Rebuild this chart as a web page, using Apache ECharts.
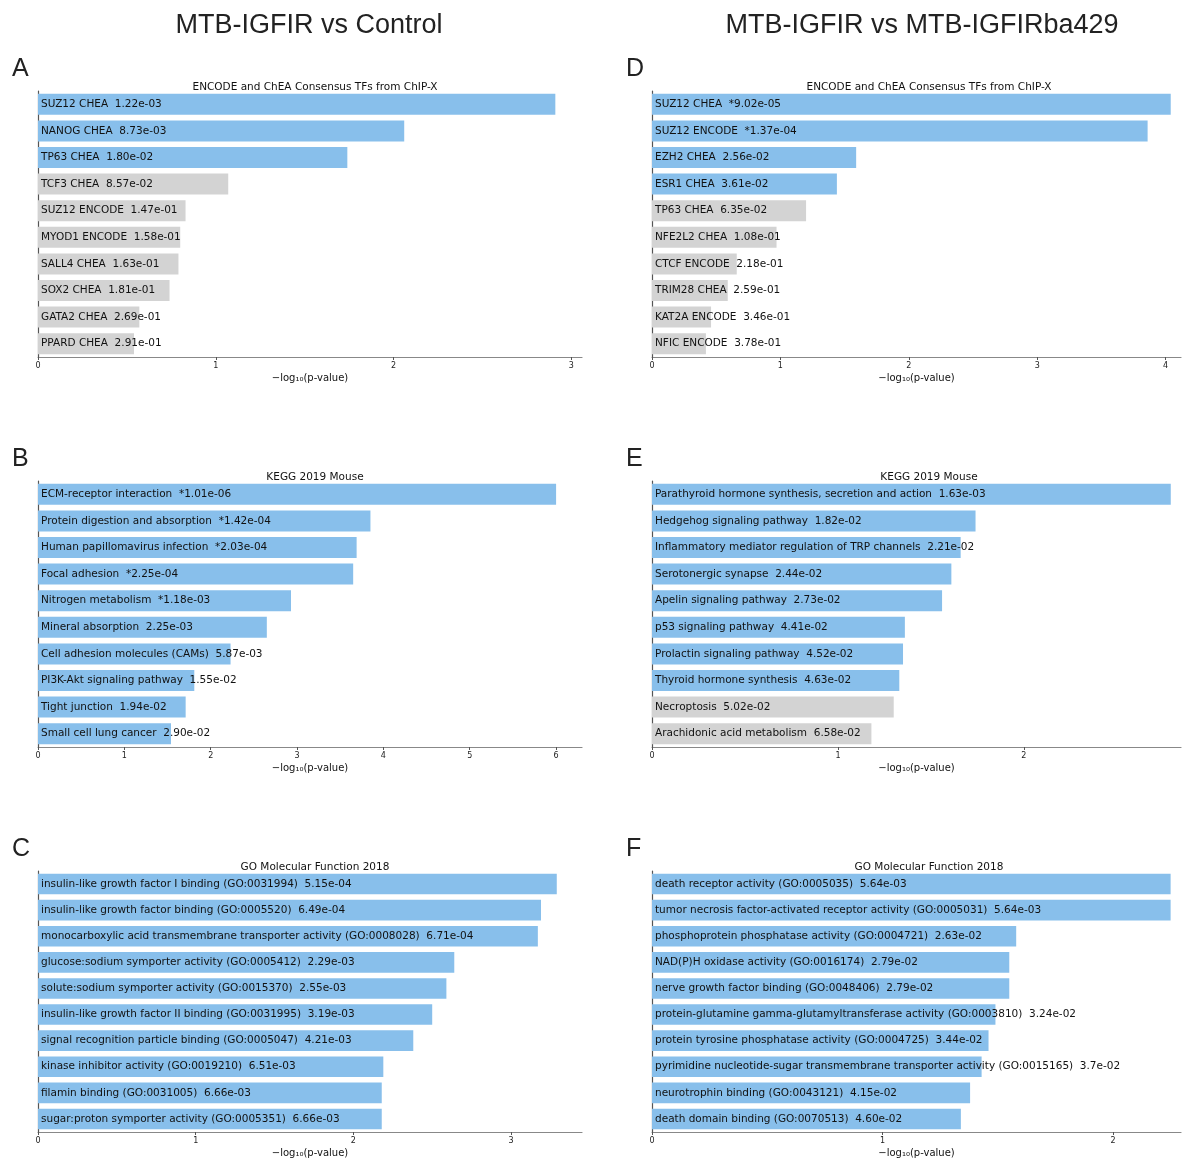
<!DOCTYPE html>
<html>
<head>
<meta charset="utf-8">
<script src="https://cdn.jsdelivr.net/npm/echarts@6/dist/echarts.min.js"></script>
<style>
  html, body { margin: 0; padding: 0; background: #fff; }
  #chart { width: 1182px; height: 1159px; }
</style>
</head>
<body>
<div id="chart"></div>
<script>
// A: ENCODE and ChEA (Control)
const termsA = ['SUZ12 CHEA', 'NANOG CHEA', 'TP63 CHEA', 'TCF3 CHEA', 'SUZ12 ENCODE', 'MYOD1 ENCODE', 'SALL4 CHEA', 'SOX2 CHEA', 'GATA2 CHEA', 'PPARD CHEA']
const pA = ['1.22e-03', '8.73e-03', '1.80e-02', '8.57e-02', '1.47e-01', '1.58e-01', '1.63e-01', '1.81e-01', '2.69e-01', '2.91e-01']
const valuesA = [2.91, 2.06, 1.74, 1.07, 0.83, 0.80, 0.79, 0.74, 0.57, 0.54]
const ticksA = [0, 1, 2, 3]

// B: KEGG (Control)
const termsB = ['ECM-receptor interaction', 'Protein digestion and absorption', 'Human papillomavirus infection', 'Focal adhesion', 'Nitrogen metabolism', 'Mineral absorption', 'Cell adhesion molecules (CAMs)', 'PI3K-Akt signaling pathway', 'Tight junction', 'Small cell lung cancer']
const pB = ['*1.01e-06', '*1.42e-04', '*2.03e-04', '*2.25e-04', '*1.18e-03', '2.25e-03', '5.87e-03', '1.55e-02', '1.94e-02', '2.90e-02']
const valuesB = [6.00, 3.85, 3.69, 3.65, 2.93, 2.65, 2.23, 1.81, 1.71, 1.54]
const ticksB = [0, 1, 2, 3, 4, 5, 6]

// C: GO MF (Control)
const termsC = ['insulin-like growth factor I binding (GO:0031994)', 'insulin-like growth factor binding (GO:0005520)', 'monocarboxylic acid transmembrane transporter activity (GO:0008028)', 'glucose:sodium symporter activity (GO:0005412)', 'solute:sodium symporter activity (GO:0015370)', 'insulin-like growth factor II binding (GO:0031995)', 'signal recognition particle binding (GO:0005047)', 'kinase inhibitor activity (GO:0019210)', 'filamin binding (GO:0031005)', 'sugar:proton symporter activity (GO:0005351)']
const pC = ['5.15e-04', '6.49e-04', '6.71e-04', '2.29e-03', '2.55e-03', '3.19e-03', '4.21e-03', '6.51e-03', '6.66e-03', '6.66e-03']
const valuesC = [3.29, 3.19, 3.17, 2.64, 2.59, 2.50, 2.38, 2.19, 2.18, 2.18]
const ticksC = [0, 1, 2, 3]

// D: ENCODE and ChEA (ba429)
const termsD = ['SUZ12 CHEA', 'SUZ12 ENCODE', 'EZH2 CHEA', 'ESR1 CHEA', 'TP63 CHEA', 'NFE2L2 CHEA', 'CTCF ENCODE', 'TRIM28 CHEA', 'KAT2A ENCODE', 'NFIC ENCODE']
const pD = ['*9.02e-05', '*1.37e-04', '2.56e-02', '3.61e-02', '6.35e-02', '1.08e-01', '2.18e-01', '2.59e-01', '3.46e-01', '3.78e-01']
const valuesD = [4.04, 3.86, 1.59, 1.44, 1.20, 0.97, 0.66, 0.59, 0.46, 0.42]
const ticksD = [0, 1, 2, 3, 4]

// E: KEGG (ba429)
const termsE = ['Parathyroid hormone synthesis, secretion and action', 'Hedgehog signaling pathway', 'Inflammatory mediator regulation of TRP channels', 'Serotonergic synapse', 'Apelin signaling pathway', 'p53 signaling pathway', 'Prolactin signaling pathway', 'Thyroid hormone synthesis', 'Necroptosis', 'Arachidonic acid metabolism']
const pE = ['1.63e-03', '1.82e-02', '2.21e-02', '2.44e-02', '2.73e-02', '4.41e-02', '4.52e-02', '4.63e-02', '5.02e-02', '6.58e-02']
const valuesE = [2.79, 1.74, 1.66, 1.61, 1.56, 1.36, 1.35, 1.33, 1.30, 1.18]
const ticksE = [0, 1, 2]

// F: GO MF (ba429)
const termsF = ['death receptor activity (GO:0005035)', 'tumor necrosis factor-activated receptor activity (GO:0005031)', 'phosphoprotein phosphatase activity (GO:0004721)', 'NAD(P)H oxidase activity (GO:0016174)', 'nerve growth factor binding (GO:0048406)', 'protein-glutamine gamma-glutamyltransferase activity (GO:0003810)', 'protein tyrosine phosphatase activity (GO:0004725)', 'pyrimidine nucleotide-sugar transmembrane transporter activity (GO:0015165)', 'neurotrophin binding (GO:0043121)', 'death domain binding (GO:0070513)']
const pF = ['5.64e-03', '5.64e-03', '2.63e-02', '2.79e-02', '2.79e-02', '3.24e-02', '3.44e-02', '3.7e-02', '4.15e-02', '4.60e-02']
const valuesF = [2.25, 2.25, 1.58, 1.55, 1.55, 1.49, 1.46, 1.43, 1.38, 1.34]
const ticksF = [0, 1, 2]

// the right column is cut off at the page edge, so its axes stop short
const panels = [
  { letter: 'A', title: 'ENCODE and ChEA Consensus TFs from ChIP-X', terms: termsA, p: pA, values: valuesA, ticks: ticksA, max: 3.06, col: 0, row: 0 },
  { letter: 'B', title: 'KEGG 2019 Mouse', terms: termsB, p: pB, values: valuesB, ticks: ticksB, max: 6.30, col: 0, row: 1 },
  { letter: 'C', title: 'GO Molecular Function 2018', terms: termsC, p: pC, values: valuesC, ticks: ticksC, max: 3.45, col: 0, row: 2 },
  { letter: 'D', title: 'ENCODE and ChEA Consensus TFs from ChIP-X', terms: termsD, p: pD, values: valuesD, ticks: ticksD, max: 4.12, col: 1, row: 0 },
  { letter: 'E', title: 'KEGG 2019 Mouse', terms: termsE, p: pE, values: valuesE, ticks: ticksE, max: 2.845, col: 1, row: 1 },
  { letter: 'F', title: 'GO Molecular Function 2018', terms: termsF, p: pF, values: valuesF, ticks: ticksF, max: 2.295, col: 1, row: 2 }
]

const BLUE = '#88bfeb'
const GREY = '#d3d3d3'
const FONT = 'DejaVu Sans'

const chart = echarts.init(document.getElementById('chart'))

const titles = [
  { text: 'MTB-IGFIR vs Control', left: 304, top: 7, textAlign: 'center',
    textStyle: { fontFamily: 'Liberation Sans', fontSize: 27, fontWeight: 'normal', color: '#222' } },
  { text: 'MTB-IGFIR vs MTB-IGFIRba429', left: 917, top: 7, textAlign: 'center',
    textStyle: { fontFamily: 'Liberation Sans', fontSize: 27, fontWeight: 'normal', color: '#222' } }
]
const grids = []
const xAxes = []
const yAxes = []
const series = []

panels.forEach((pn, i) => {
  const left = pn.col === 0 ? 38 : 652
  const width = pn.col === 0 ? 544 : 529
  const titleX = pn.col === 0 ? 310 : 924
  const top = 91 + pn.row * 390
  titles.push({
    text: pn.letter, left: left - 31, top: top - 39,
    textStyle: { fontFamily: 'Liberation Sans', fontSize: 25, fontWeight: 'normal', color: '#222' }
  })
  titles.push({
    text: pn.title, left: titleX, top: top - 14, textAlign: 'center',
    textStyle: { fontFamily: FONT, fontSize: 10.5, fontWeight: 'normal', color: '#111' }
  })
  grids.push({ left, top, width, height: 266 })
  xAxes.push({
    type: 'value', gridIndex: i, min: 0, max: pn.max,
    name: '\u2212log\u2081\u2080(p-value)', nameLocation: 'middle', nameGap: 16,
    nameTextStyle: { fontFamily: FONT, fontSize: 10, color: '#111' },
    axisLine: { show: true, lineStyle: { color: '#888', width: 1.2 } },
    axisTick: { show: true, length: 3, customValues: pn.ticks, lineStyle: { color: '#555' } },
    axisLabel: { customValues: pn.ticks, fontFamily: FONT, fontSize: 8, color: '#222', margin: 5 },
    splitLine: { show: false }
  })
  yAxes.push({
    type: 'category', gridIndex: i, inverse: true, data: pn.terms,
    axisLine: { show: true, lineStyle: { color: '#555', width: 1.2 } },
    axisTick: { show: false }, axisLabel: { show: false }, splitLine: { show: false }
  })
  series.push({
    type: 'bar', xAxisIndex: i, yAxisIndex: i, barCategoryGap: '21%',
    data: pn.values.map((v, k) => ({
      value: v,
      itemStyle: { color: parseFloat(pn.p[k].replace('*', '')) < 0.05 ? BLUE : GREY }
    })),
    label: {
      show: true, position: 'insideLeft', distance: 3,
      fontFamily: FONT, fontSize: 10.5, color: '#111',
      formatter: (d) => pn.terms[d.dataIndex] + '  ' + pn.p[d.dataIndex]
    },
    silent: true, animation: false
  })
})

chart.setOption({
  backgroundColor: '#fff',
  animation: false,
  title: titles,
  grid: grids,
  xAxis: xAxes,
  yAxis: yAxes,
  series
})
</script>
</body>
</html>
